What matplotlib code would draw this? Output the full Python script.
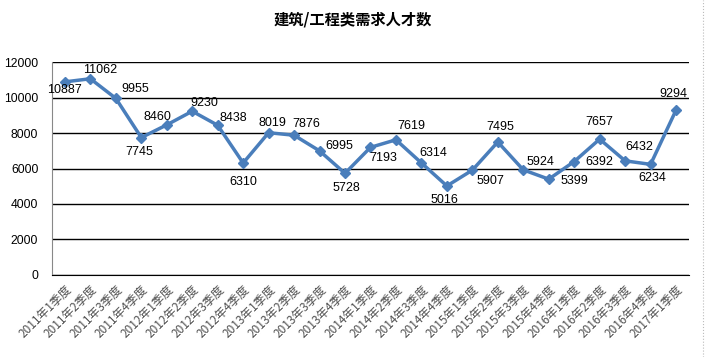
import matplotlib.pyplot as plt
from matplotlib.lines import Line2D
from matplotlib.ticker import MultipleLocator

plt.rcParams['font.family'] = ['Noto Sans CJK SC', 'DejaVu Sans']

quarters = ['2011年1季度', '2011年2季度', '2011年3季度', '2011年4季度',
            '2012年1季度', '2012年2季度', '2012年3季度', '2012年4季度',
            '2013年1季度', '2013年2季度', '2013年3季度', '2013年4季度',
            '2014年1季度', '2014年2季度', '2014年3季度', '2014年4季度',
            '2015年1季度', '2015年2季度', '2015年3季度', '2015年4季度',
            '2016年1季度', '2016年2季度', '2016年3季度', '2016年4季度',
            '2017年1季度']
demand = [10887, 11062, 9955, 7745, 8460, 9230, 8438, 6310,
          8019, 7876, 6995, 5728, 7193, 7619, 6314, 5016,
          5907, 7495, 5924, 5399, 6392, 7657, 6432, 6234, 9294]

# label centre offsets from the marker, in pixels (x right, y up)
label_off = [(0, -8), (10, 9), (19, 9), (-2, -14), (-9, 8), (12, 8), (16, 7), (0, -19),
             (4, 10), (12, 11), (20, 5), (1, -15), (13, -11), (15, 14), (12, 10), (-2, -14),
             (18, -11), (2, 15), (17, 8), (26, -2), (25, 0), (0, 17), (14, 14), (2, -14),
             (-3, 16)]


def main():
    fig = plt.figure(figsize=(7.05, 3.57), dpi=100)
    ax = fig.add_axes([0.074, 0.23, 0.903, 0.596])
    x = list(range(len(demand)))
    ax.plot(x, demand, color='#4A7EBB', lw=2.5, marker='D', ms=5.5, zorder=3)

    for i, v in enumerate(demand):
        ax.annotate(str(v), (i, v), xytext=label_off[i], textcoords='offset pixels',
                    ha='center', va='center', fontsize=9, color='black',
                    family='Liberation Sans')

    ax.set_xlim(-0.5, len(demand) - 0.5)
    ax.set_ylim(0, 12000)
    ax.yaxis.set_major_locator(MultipleLocator(2000))
    ax.grid(axis='y', color='black', lw=1)
    ax.set_axisbelow(True)
    ax.set_xticks(x)
    ax.set_xticklabels(quarters, rotation=45, ha='right', rotation_mode='anchor',
                       fontsize=8.5, color='#505050')
    ax.tick_params(axis='x', length=0, pad=6)
    ax.tick_params(axis='y', length=0, pad=10, labelsize=8.7)
    for lab in ax.get_yticklabels():
        lab.set_family('Liberation Sans')
    for s in ['top', 'right']:
        ax.spines[s].set_visible(False)
    ax.spines['left'].set_color('#888888')
    ax.spines['bottom'].set_color('black')

    fig.text(0.5, 0.945, '建筑/工程类需求人才数', ha='center', va='center',
             fontsize=11, fontweight='bold')
    fig.add_artist(Line2D([0.997, 0.997], [0, 1], transform=fig.transFigure,
                          color='#BBBBBB', lw=0.8, ls=':'))
    fig.savefig('out.png', dpi=100)


if __name__ == '__main__':
    main()
